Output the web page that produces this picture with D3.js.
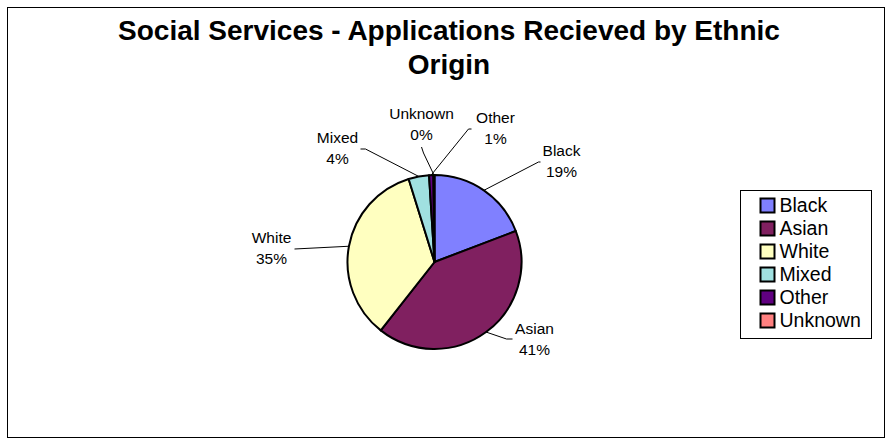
<!DOCTYPE html>
<html>
<head>
<meta charset="utf-8">
<script src="https://cdn.jsdelivr.net/npm/d3@7"></script>
<style>
  html, body { margin: 0; padding: 0; background: #fff; }
  svg { display: block; font-family: Arial, "Liberation Sans", sans-serif; }
</style>
</head>
<body>
<svg id="chart" width="886" height="439"></svg>
<script>
// Applications received, share of total (%) by ethnic origin
const categories = ["Black", "Asian", "White", "Mixed", "Other", "Unknown"];
const shares = [19.2, 41.4, 34.6, 3.8, 0.8, 0.2];
const colours = ["#8080FF", "#802060", "#FFFFC0", "#A0E0E0", "#600080", "#FF8080"];
const titleLines = ["Social Services - Applications Recieved by Ethnic", "Origin"];

// Label anchor offsets (relative to pie centre) for each slice's data label
const labelOffsets = [
  [127, -112], [100, 66], [-163, -25], [-97, -125], [61, -145], [-13, -149]
];

const svg = d3.select("#chart");
const W = 886, H = 439;

// Chart area border
svg.append("rect")
  .attr("x", 7.5).attr("y", 7.5)
  .attr("width", W - 9).attr("height", H - 9)
  .attr("fill", "#fff").attr("stroke", "#000").attr("stroke-width", 1);

// Title
const title = svg.append("text")
  .attr("text-anchor", "middle")
  .attr("font-weight", "bold")
  .attr("font-size", 28)
  .attr("fill", "#000");
title.selectAll("tspan").data(titleLines).join("tspan")
  .attr("x", 449)
  .attr("y", (d, i) => 40 + i * 34)
  .text(d => d);

// Pie
const cx = 434.5, cy = 262, r = 87;
const data = categories.map((c, i) => ({ name: c, value: shares[i], colour: colours[i], off: labelOffsets[i] }));
const pie = d3.pie().sort(null).value(d => d.value);
const arcs = pie(data);
const arc = d3.arc().innerRadius(0).outerRadius(r);

const g = svg.append("g").attr("transform", `translate(${cx},${cy})`);
g.selectAll("path.slice").data(arcs).join("path")
  .attr("class", "slice")
  .attr("d", arc)
  .attr("fill", d => d.data.colour)
  .attr("stroke", "#000")
  .attr("stroke-width", 2)
  .attr("stroke-linejoin", "round");

// Leader line elbows, relative to each label's anchor
function elbow(name, lx, ly) {
  switch (name) {
    case "Unknown": return [[lx + 2, ly + 40], [lx, ly + 34]];
    case "Other":   return [[lx - 27, ly + 12], [lx - 24, ly + 12]];
    case "Black":   return [[lx - 23, ly + 12], [lx - 21, ly + 12]];
    case "Asian":   return [[lx - 28, ly + 11], [lx - 22, ly + 11]];
    case "White":   return [[lx + 23, ly + 12]];
    default:        return [[lx + 28, ly + 12], [lx + 23, ly + 12]];
  }
}

// Leader lines and data labels
const total = d3.sum(shares);
const lineH = 21;
arcs.forEach(a => {
  const mid = (a.startAngle + a.endAngle) / 2;
  const ex = r * Math.sin(mid), ey = -r * Math.cos(mid);
  const [lx, ly] = a.data.off;
  const pts = [[ex, ey]].concat(elbow(a.data.name, lx, ly));
  g.append("polyline")
    .attr("points", pts.map(p => p.join(",")).join(" "))
    .attr("fill", "none")
    .attr("stroke", "#000")
    .attr("stroke-width", 1);

  const t = g.append("text")
    .attr("text-anchor", "middle")
    .attr("font-size", 15.5)
    .attr("fill", "#000");
  t.append("tspan").attr("x", lx).attr("y", ly + 5.5).text(a.data.name);
  t.append("tspan").attr("x", lx).attr("y", ly + 5.5 + lineH)
    .text(Math.round(a.data.value / total * 100) + "%");
});

// Legend
const lg = svg.append("g").attr("transform", "translate(740.5,190.5)");
const rowH = 23;
lg.append("rect")
  .attr("width", 131).attr("height", 148)
  .attr("fill", "#fff").attr("stroke", "#000").attr("stroke-width", 1);
const rows = lg.selectAll("g.row").data(data).join("g")
  .attr("class", "row")
  .attr("transform", (d, i) => `translate(20,${14.5 + i * rowH})`);
rows.append("rect")
  .attr("x", 0).attr("y", -6.5)
  .attr("width", 14).attr("height", 14)
  .attr("fill", d => d.colour)
  .attr("stroke", "#000").attr("stroke-width", 2);
rows.append("text")
  .attr("x", 19).attr("y", 7)
  .attr("font-size", 19.5)
  .attr("fill", "#000")
  .text(d => d.name);
</script>
</body>
</html>
